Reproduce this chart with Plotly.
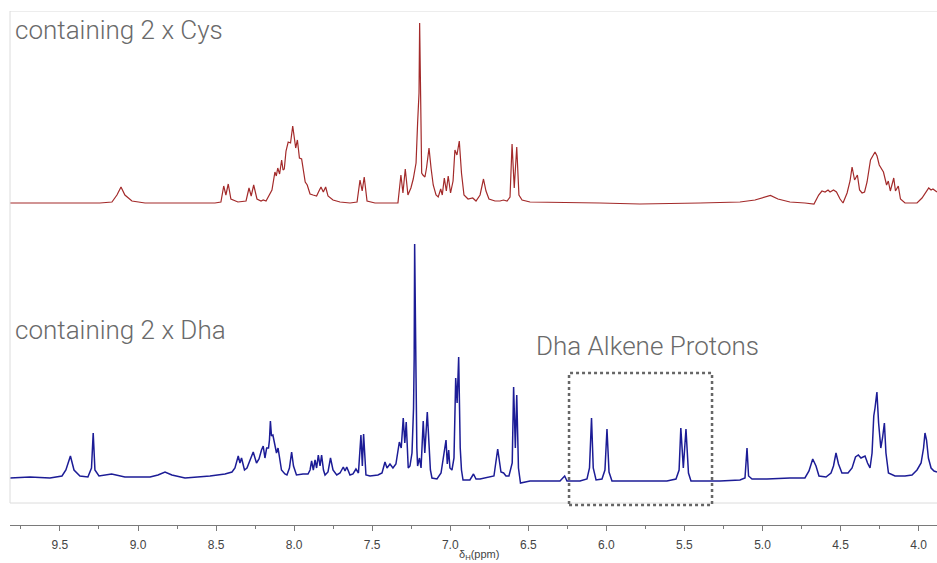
import plotly.graph_objects as go

# ---- data (chemical shift in ppm, intensity in arbitrary units) ----
cys_ppm = [9.820, 9.244, 9.167, 9.135, 9.109, 9.084, 9.039, 8.955, 8.507, 8.469, 8.451, 8.437, 8.422, 8.405,
           8.360, 8.308, 8.289, 8.275, 8.259, 8.238, 8.212, 8.198, 8.180, 8.155, 8.142, 8.123, 8.114, 8.105,
           8.093, 8.080, 8.071, 8.063, 8.052, 8.038, 8.023, 8.009, 7.998, 7.990, 7.979, 7.966, 7.952, 7.940,
           7.929, 7.916, 7.898, 7.879, 7.856, 7.844, 7.828, 7.813, 7.798, 7.783, 7.751, 7.706, 7.642, 7.597,
           7.578, 7.564, 7.551, 7.533, 7.482, 7.335, 7.316, 7.303, 7.288, 7.271, 7.252, 7.237, 7.219, 7.209,
           7.200, 7.196, 7.191, 7.183, 7.175, 7.162, 7.152, 7.136, 7.123, 7.109, 7.091, 7.077, 7.061, 7.051,
           7.038, 7.025, 7.013, 6.998, 6.982, 6.970, 6.957, 6.942, 6.928, 6.912, 6.886, 6.856, 6.835, 6.809,
           6.787, 6.771, 6.752, 6.713, 6.681, 6.659, 6.636, 6.617, 6.604, 6.590, 6.574, 6.560, 6.540, 6.489,
           6.041, 5.785, 5.400, 5.144, 5.048, 4.984, 4.949, 4.901, 4.824, 4.728, 4.670, 4.640, 4.619, 4.599,
           4.580, 4.567, 4.545, 4.526, 4.503, 4.484, 4.458, 4.439, 4.426, 4.410, 4.392, 4.378, 4.362, 4.346,
           4.330, 4.308, 4.292, 4.279, 4.266, 4.252, 4.225, 4.205, 4.194, 4.181, 4.159, 4.148, 4.130, 4.116,
           4.087, 4.010, 3.978, 3.959, 3.935, 3.920, 3.908, 3.882]
cys_int = [0, 0, 1, 8, 16, 8, 2, 0, 0, 1, 17, 8, 19, 4,
           1, 2, 15, 7, 18, 4, 2, 3, 2, 10, 13, 31, 27, 35,
           29, 43, 33, 34, 52, 61, 60, 77, 60, 55, 63, 45, 44, 30,
           21, 18, 9, 8, 7, 11, 16, 11, 16, 7, 3, 1, 0, 1,
           23, 12, 26, 2, 0, 0, 28, 10, 34, 8, 15, 24, 40, 80,
           110, 180, 100, 30, 28, 26, 35, 55, 35, 18, 8, 6, 14, 8,
           25, 12, 27, 10, 22, 53, 48, 62, 30, 8, 4, 5, 2, 8,
           24, 12, 4, 2, 2, 3, 2, 6, 59, 15, 56, 8, 3, 1,
           0, -1, 0, 1, 3, 6, 7.5, 4, 1, 0, -1, 8, 12, 11,
           13, 11, 13, 11, 4, 0, 10, 22, 36, 23, 28, 13, 10, 11,
           21, 43, 47, 51, 47, 38, 31, 18, 22, 12, 25, 12, 17, 4,
           0, 0, 5, 10, 15, 13, 14, 11]

dha_ppm = [9.820, 9.692, 9.564, 9.487, 9.462, 9.433, 9.410, 9.372, 9.321, 9.298, 9.287, 9.276, 9.250, 9.169,
           9.084, 8.923, 8.872, 8.827, 8.783, 8.699, 8.539, 8.443, 8.398, 8.379, 8.358, 8.347, 8.337, 8.318,
           8.302, 8.283, 8.262, 8.241, 8.225, 8.209, 8.198, 8.187, 8.176, 8.164, 8.158, 8.152, 8.145, 8.136,
           8.123, 8.113, 8.103, 8.095, 8.081, 8.059, 8.046, 8.030, 8.016, 8.004, 7.985, 7.943, 7.911, 7.898,
           7.888, 7.877, 7.866, 7.856, 7.845, 7.834, 7.824, 7.812, 7.802, 7.783, 7.767, 7.751, 7.727, 7.706,
           7.685, 7.674, 7.663, 7.642, 7.623, 7.604, 7.588, 7.572, 7.563, 7.555, 7.540, 7.514, 7.463, 7.437,
           7.418, 7.405, 7.386, 7.367, 7.348, 7.326, 7.314, 7.301, 7.291, 7.282, 7.269, 7.258, 7.245, 7.235,
           7.231, 7.228, 7.224, 7.219, 7.214, 7.209, 7.197, 7.187, 7.173, 7.163, 7.147, 7.136, 7.127, 7.117,
           7.085, 7.059, 7.045, 7.027, 7.019, 7.010, 7.002, 6.989, 6.976, 6.965, 6.956, 6.946, 6.936, 6.928,
           6.918, 6.874, 6.851, 6.835, 6.809, 6.720, 6.696, 6.675, 6.658, 6.643, 6.624, 6.603, 6.594, 6.583,
           6.574, 6.563, 6.550, 6.489, 6.393, 6.297, 6.267, 6.252, 6.169, 6.124, 6.108, 6.095, 6.084, 6.066,
           6.028, 6.009, 5.996, 5.983, 5.964, 5.823, 5.612, 5.554, 5.534, 5.523, 5.507, 5.490, 5.474, 5.458,
           5.272, 5.144, 5.112, 5.099, 5.089, 5.067, 4.971, 4.824, 4.728, 4.702, 4.678, 4.657, 4.638, 4.593,
           4.561, 4.545, 4.529, 4.513, 4.491, 4.452, 4.426, 4.404, 4.386, 4.369, 4.343, 4.327, 4.311, 4.298,
           4.287, 4.279, 4.267, 4.256, 4.242, 4.231, 4.219, 4.209, 4.193, 4.151, 4.087, 4.042, 4.010, 3.984,
           3.968, 3.959, 3.949, 3.937, 3.920, 3.901, 3.882]
dha_int = [0, 1, 0, 2, 8, 22, 8, 2, 1, 10, 45, 8, 2, 4,
           1, 1, 3, 6, 3, 0, 2, 4, 6, 10, 22, 15, 20, 8,
           10, 18, 26, 15, 19, 28, 32, 20, 30, 30, 38, 57, 42, 43,
           32, 25, 30, 20, 8, 4, 3, 10, 26, 12, 3, 4, 4, 8,
           17, 8, 18, 10, 23, 12, 23, 8, 3, 6, 20, 8, 3, 5,
           11, 7, 11, 3, 4, 9, 5, 43, 12, 44, 3, 2, 3, 5,
           16, 10, 14, 10, 14, 36, 30, 60, 35, 56, 10, 12, 25, 70,
           120, 234, 120, 100, 30, 12, 20, 10, 57, 25, 66, 30, 8, 0,
           -1, 5, 20, 38, 14, 28, 10, 8, 20, 100, 75, 121, 30, 8,
           -2, -2, 4, -1, -1, 2, 29, 6, 5, 2, 2, 15, 91, 30,
           83, 10, -5, -3, -3, -3, 2, -3, -3, -1, 10, 60, 10, -2,
           -1, 8, 49, 6, -3, -3, -3, -1, 8, 50, 10, 49, 5, -3,
           -3, -2, 0, 30, 2, -1, -1, 0, 0, 7, 19, 12, 2, 1,
           5, 12, 25, 14, 5, 5, 10, 21, 23, 20, 22, 15, 10, 25,
           62, 70, 86, 55, 30, 40, 55, 25, 5, 2, 2, 3, 8, 15,
           30, 45, 38, 20, 10, 7, 6]

tick_vals = [9.5, 9.0, 8.5, 8.0, 7.5, 7.0, 6.5, 6.0, 5.5, 5.0, 4.5, 4.0]
tick_text = ["9.5", "9.0", "8.5", "8.0", "7.5", "7.0", "6.5", "6.0", "5.5", "5.0", "4.5", "4.0"]
minor_vals = [9.75, 9.25, 8.75, 8.25, 7.75, 7.25, 6.75, 6.25, 5.75, 5.25, 4.75, 4.25]

label_cys = "containing 2 x Cys"
label_dha = "containing 2 x Dha"
label_box = "Dha Alkene Protons"
axis_title = "δ<sub>H</sub>(ppm)"
box_ppm = [6.239, 5.323]   # region of the Dha alkene protons

# ---- styling / layout ----
CYS_OFFSET = 322
DHA_OFFSET = 47
TEXT_FONT = dict(family="Roboto", size=26, color="#6a6a6a", weight=300)

fig = go.Figure()
fig.add_trace(go.Scatter(x=cys_ppm, y=[v + CYS_OFFSET for v in cys_int], mode="lines",
                         line=dict(color="#a32a2a", width=1.2), hoverinfo="skip"))
fig.add_trace(go.Scatter(x=dha_ppm, y=[v + DHA_OFFSET for v in dha_int], mode="lines",
                         line=dict(color="#1c1c96", width=1.5), hoverinfo="skip"))

fig.update_layout(
    width=937, height=563,
    margin=dict(l=10, r=0, t=11, b=38),
    plot_bgcolor="white", paper_bgcolor="white",
    showlegend=False,
)
fig.update_xaxes(
    range=[9.82, 3.882], showgrid=False, zeroline=False,
    showline=True, linecolor="#7a7a7a", linewidth=1,
    ticks="outside", ticklen=5, tickcolor="#7a7a7a", tickwidth=1,
    tickvals=tick_vals, ticktext=tick_text, ticklabelstandoff=4,
    tickfont=dict(family="Liberation Sans", size=12, color="#444"),
    minor=dict(tickvals=minor_vals, ticks="outside", ticklen=3, tickcolor="#7a7a7a", showgrid=False),
)
fig.update_yaxes(range=[0, 514], visible=False)

# light frame around the spectra
frame = dict(color="#dcdcdc", width=1)
fig.add_shape(type="line", xref="paper", yref="y", x0=0, x1=1, y0=514, y1=514, line=frame)
fig.add_shape(type="line", xref="paper", yref="y", x0=0, x1=0, y0=22, y1=514, line=frame)
fig.add_shape(type="line", xref="paper", yref="y", x0=0, x1=1, y0=22, y1=22, line=frame)

# dotted box
fig.add_shape(type="rect", xref="x", yref="y", x0=box_ppm[0], x1=box_ppm[1], y0=20, y1=152,
              line=dict(color="#666", width=2.5, dash="dot"))

fig.add_annotation(x=9.801, y=495, xref="x", yref="y", text=label_cys, showarrow=False,
                   xanchor="left", yanchor="middle", font=TEXT_FONT)
fig.add_annotation(x=9.801, y=195, xref="x", yref="y", text=label_dha, showarrow=False,
                   xanchor="left", yanchor="middle", font=TEXT_FONT)
fig.add_annotation(x=6.464, y=179, xref="x", yref="y", text=label_box, showarrow=False,
                   xanchor="left", yanchor="middle",
                   font=dict(family="Roboto", size=26, color="#6a6a6a", weight=300))
fig.add_annotation(x=6.818, y=-0.059, xref="x", yref="paper", text=axis_title, showarrow=False,
                   xanchor="center", yanchor="middle",
                   font=dict(family="Liberation Sans", size=11, color="#444"))

fig.write_html("out.html")
